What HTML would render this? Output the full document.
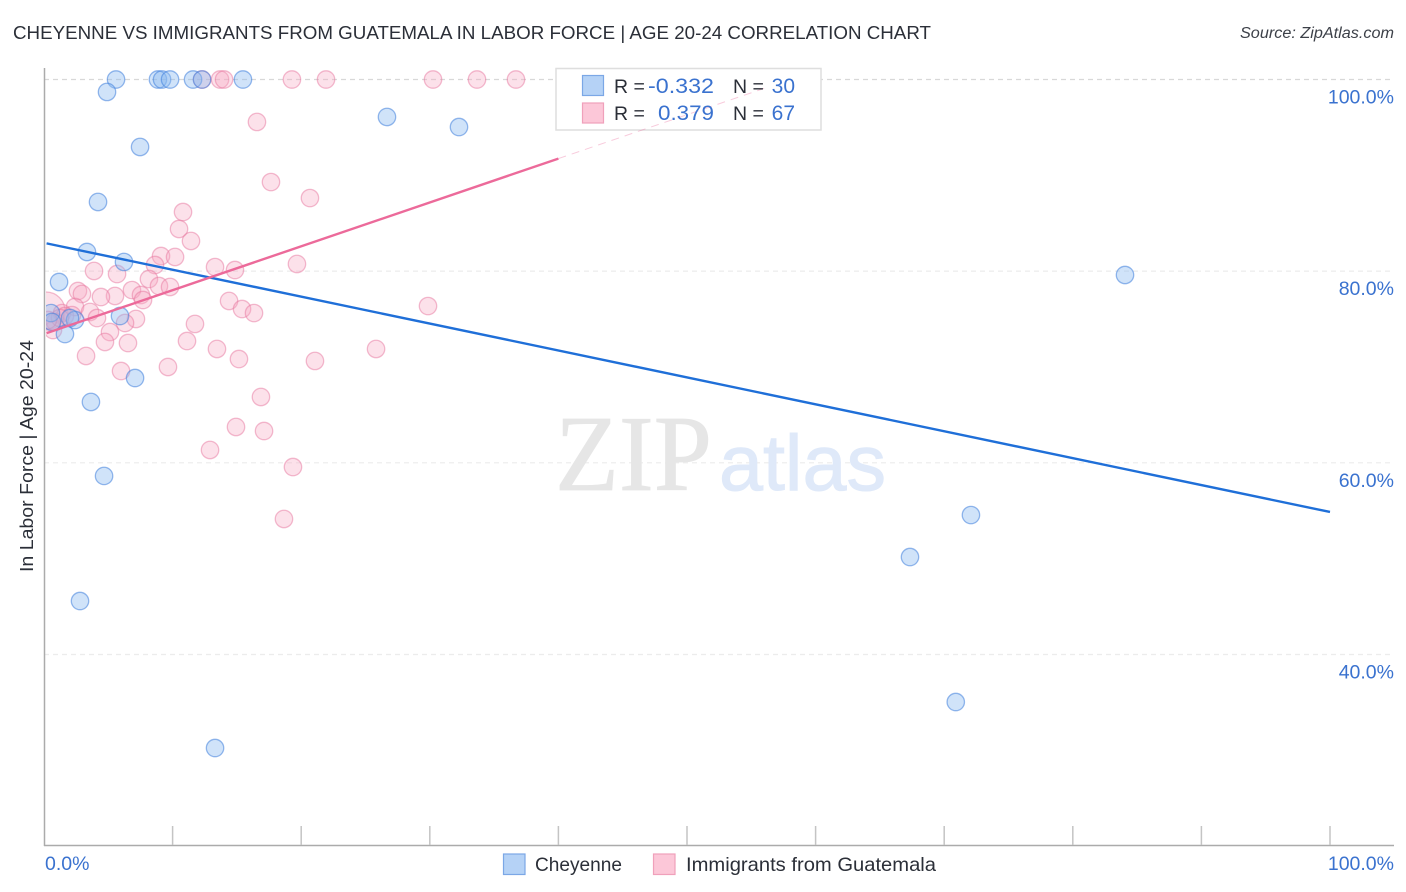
<!DOCTYPE html>
<html lang="en">
<head>
<meta charset="utf-8">
<title>Cheyenne vs Immigrants from Guatemala in Labor Force | Age 20-24 Correlation Chart</title>
<style>
html,body{margin:0;padding:0;background:#fff;width:1406px;height:892px;overflow:hidden}
svg{display:block}
text{font-family:"Liberation Sans",sans-serif}
</style>
</head>
<body>
<svg id="chart" width="1406" height="892" viewBox="0 0 1406 892" xmlns="http://www.w3.org/2000/svg">
  <defs><clipPath id="plot-clip"><rect x="46" y="60" width="1348" height="786"/></clipPath></defs>
  <text x="13" y="39" font-size="18.5" fill="#2b2f38" textLength="918" lengthAdjust="spacingAndGlyphs">CHEYENNE VS IMMIGRANTS FROM GUATEMALA IN LABOR FORCE | AGE 20-24 CORRELATION CHART</text>
  <text x="1394" y="38" font-size="15.5" font-style="italic" fill="#3c4048" text-anchor="end" textLength="154" lengthAdjust="spacingAndGlyphs">Source: ZipAtlas.com</text>
  <g id="grid"></g>
  <g>
    <text x="555" y="490" font-size="108" fill="#e6e6e6" stroke="#e6e6e6" stroke-width="0.8" textLength="157" lengthAdjust="spacingAndGlyphs" style="font-family:'Liberation Serif',serif">ZIP</text>
    <text x="719" y="490" font-size="79" fill="#dfe9f9" stroke="#dfe9f9" stroke-width="1" textLength="167" lengthAdjust="spacingAndGlyphs">atlas</text>
  </g>
  <g id="axes"></g>
  <g id="points" clip-path="url(#plot-clip)"></g>
  <g>
    <rect x="556" y="68.500" width="265" height="61.500" fill="#fff" stroke="#dedede" stroke-width="1.500"/>
  </g>
  <g id="lines"></g>
  <g>
    <rect x="582.500" y="75.500" width="21" height="20" fill="#b5d2f6" stroke="#7ba7e6" stroke-width="1.200"/>
    <rect x="582.500" y="103" width="21" height="20" fill="#fcc7d8" stroke="#f0a0bb" stroke-width="1.200"/>
    <text x="614" y="93" font-size="19.500" fill="#2b2f38">R =</text>
    <text x="714" y="93" font-size="21" fill="#3a72cf" text-anchor="end" textLength="66" lengthAdjust="spacingAndGlyphs">-0.332</text>
    <text x="733" y="93" font-size="19.500" fill="#2b2f38">N =</text>
    <text x="795" y="93" font-size="21" fill="#3a72cf" text-anchor="end">30</text>
    <text x="614" y="120" font-size="19.500" fill="#2b2f38">R =</text>
    <text x="714" y="120" font-size="21" fill="#3a72cf" text-anchor="end" textLength="56" lengthAdjust="spacingAndGlyphs">0.379</text>
    <text x="733" y="120" font-size="19.500" fill="#2b2f38">N =</text>
    <text x="795" y="120" font-size="21" fill="#3a72cf" text-anchor="end">67</text>
  </g>
  <text transform="translate(33,456) rotate(-90)" font-size="18.500" fill="#2b2f38" text-anchor="middle" textLength="232" lengthAdjust="spacingAndGlyphs">In Labor Force | Age 20-24</text>
  <g>
    <rect x="503.500" y="854" width="21.500" height="20.500" fill="#b5d2f6" stroke="#7ba7e6" stroke-width="1.200"/>
    <text x="535" y="871" font-size="19.500" fill="#2b2f38" textLength="87" lengthAdjust="spacingAndGlyphs">Cheyenne</text>
    <rect x="653.500" y="854" width="21.500" height="20.500" fill="#fcc7d8" stroke="#f0a0bb" stroke-width="1.200"/>
    <text x="686" y="871" font-size="19.500" fill="#2b2f38" textLength="250" lengthAdjust="spacingAndGlyphs">Immigrants from Guatemala</text>
  </g>
</svg>
<script>
const yTickValues = [100, 80, 60, 40];
const yTickLabels = ["100.0%", "80.0%", "60.0%", "40.0%"];
const xTickValues = [0, 10, 20, 30, 40, 50, 60, 70, 80, 90, 100];
const xEndLabels = ["0.0%", "100.0%"];

const cheyenneX = [5.6, 8.86, 9.18, 9.8, 11.59, 12.29, 15.47, 4.9, 26.67, 32.27, 7.47, 4.2, 3.34, 6.22, 1.17, 5.91, 2.41, 1.63, 7.08, 3.65, 4.67, 2.8, 13.3, 70.9, 67.34, 72.08, 84.06, 0.54, 0.62, 2.02];
const cheyenneY = [100, 100, 100, 100, 100, 100, 100, 98.7, 96.09, 95.04, 92.96, 87.22, 82.0, 80.96, 78.87, 75.32, 74.9, 73.44, 68.85, 66.35, 58.63, 45.58, 30.24, 35.04, 50.17, 54.55, 79.6, 75.63, 74.7, 75.11];

const guatemalaX = [0.16, 12.29, 13.69, 14.0, 19.28, 21.93, 30.25, 33.67, 36.7, 16.56, 17.65, 20.68, 10.81, 10.5, 11.43, 9.1, 10.19, 8.63, 19.67, 13.3, 14.85, 3.89, 5.68, 8.16, 8.94, 9.8, 2.64, 2.95, 6.84, 5.52, 4.43, 7.54, 7.7, 14.39, 15.4, 16.33, 29.86, 2.41, 3.58, 4.12, 7.15, 6.3, 11.74, 5.13, 11.12, 4.74, 6.53, 13.45, 15.16, 25.82, 21.07, 3.27, 5.99, 9.64, 16.87, 14.93, 17.11, 12.91, 19.36, 18.66, 0.7, 1.4, 1.63, 2.18, 0.86, 1.24, 0.31];
const guatemalaY = [75.84, 100, 100, 100, 100, 100, 100, 100, 100, 95.57, 89.3, 87.63, 86.17, 84.4, 83.15, 81.58, 81.48, 80.64, 80.75, 80.43, 80.12, 80.02, 79.7, 79.18, 78.45, 78.35, 77.93, 77.62, 78.03, 77.41, 77.3, 77.51, 76.99, 76.89, 76.05, 75.63, 76.36, 76.26, 75.74, 75.11, 75.01, 74.59, 74.49, 73.65, 72.71, 72.61, 72.5, 71.88, 70.83, 71.88, 70.63, 71.15, 69.58, 70.0, 66.87, 63.74, 63.32, 61.34, 59.56, 54.14, 73.86, 75.63, 75.32, 75.42, 74.7, 75.11, 74.9];

const cheyenneTrendStartX = 0.2;
const cheyenneTrendEndX = 100;
const cheyenneTrendStartY = 82.9;
const cheyenneTrendEndY = 54.87;
const guatemalaTrendIntercept = 73.44;
const guatemalaTrendSlope = 0.4577;
const guatemalaSolidEndX = 40;
const guatemalaDashEndX = 56;

const NS = "http://www.w3.org/2000/svg";
function sx(v) { return 44 + v * 12.86; }
function sy(v) { return 79.5 + (100 - v) * 9.583; }
function make(tag, parent, attrs) {
  const el = document.createElementNS(NS, tag);
  for (const k in attrs) el.setAttribute(k, attrs[k]);
  parent.appendChild(el);
  return el;
}

const grid = document.getElementById("grid");
const axes = document.getElementById("axes");
yTickValues.forEach(function (v, i) {
  const g = make("line", grid, { x1: 44, x2: 1394, y1: sy(v), y2: sy(v), stroke: i === 0 ? "#d8d8d8" : "#ececec", "stroke-width": 1.2, "stroke-dasharray": "5 4" });
  
  
  const t = make("text", axes, { x: 1394, y: sy(v) + 24, "font-size": 19.5, fill: "#3a72cf", "text-anchor": "end" });
  
  
  t.textContent = yTickLabels[i];
});

const yAxis = make("line", axes, { x1: 44.5, x2: 44.5, y1: 68, y2: 846, stroke: "#ababab", "stroke-width": 1.5 });


const xAxis = make("line", axes, { x1: 44, x2: 1394, y1: 845.5, y2: 845.5, stroke: "#ababab", "stroke-width": 1.5 });


xTickValues.forEach(function (v) {
  if (v === 0) return;
  const tk = make("line", axes, { x1: sx(v), x2: sx(v), y1: 826, y2: 845, stroke: "#c4c4c4", "stroke-width": 1.5 });
  
  
});
const xLeft = make("text", axes, { x: 45, y: 870, "font-size": 19.5, fill: "#3a72cf" });


xLeft.textContent = xEndLabels[0];
const xRight = make("text", axes, { x: 1394, y: 870, "font-size": 19.5, fill: "#3a72cf", "text-anchor": "end" });


xRight.textContent = xEndLabels[1];

const pointsLayer = document.getElementById("points");
guatemalaX.forEach(function (x, i) {
  const c = make("circle", pointsLayer, { cx: sx(x), cy: sy(guatemalaY[i]), r: i === 0 ? 19 : 8.7, fill: "#f7a8c2", "fill-opacity": 0.34, stroke: "#e8789f", "stroke-opacity": 0.5, "stroke-width": 1.3 });
  
  
});
cheyenneX.forEach(function (x, i) {
  const c = make("circle", pointsLayer, { cx: sx(x), cy: sy(cheyenneY[i]), r: 8.7, fill: "#8ab8f0", "fill-opacity": 0.4, stroke: "#3f7fdc", "stroke-opacity": 0.55, "stroke-width": 1.3 });
  
  
});

const linesLayer = document.getElementById("lines");
function guatemalaTrend(x) { return guatemalaTrendIntercept + guatemalaTrendSlope * x; }
const dash = make("line", linesLayer, { x1: sx(guatemalaSolidEndX), y1: sy(guatemalaTrend(guatemalaSolidEndX)), x2: sx(guatemalaDashEndX), y2: sy(guatemalaTrend(guatemalaDashEndX)), stroke: "#ec6a9a", "stroke-width": 1, "stroke-dasharray": "8 6", "stroke-opacity": 0.35 });


const blueLine = make("line", linesLayer, { x1: sx(cheyenneTrendStartX), y1: sy(cheyenneTrendStartY), x2: sx(cheyenneTrendEndX), y2: sy(cheyenneTrendEndY), stroke: "#1f6fd8", "stroke-width": 2.4 });


const pinkLine = make("line", linesLayer, { x1: sx(0.2), y1: sy(guatemalaTrend(0.2)), x2: sx(guatemalaSolidEndX), y2: sy(guatemalaTrend(guatemalaSolidEndX)), stroke: "#ec6a9a", "stroke-width": 2.4 });


</script>
</body>
</html>
